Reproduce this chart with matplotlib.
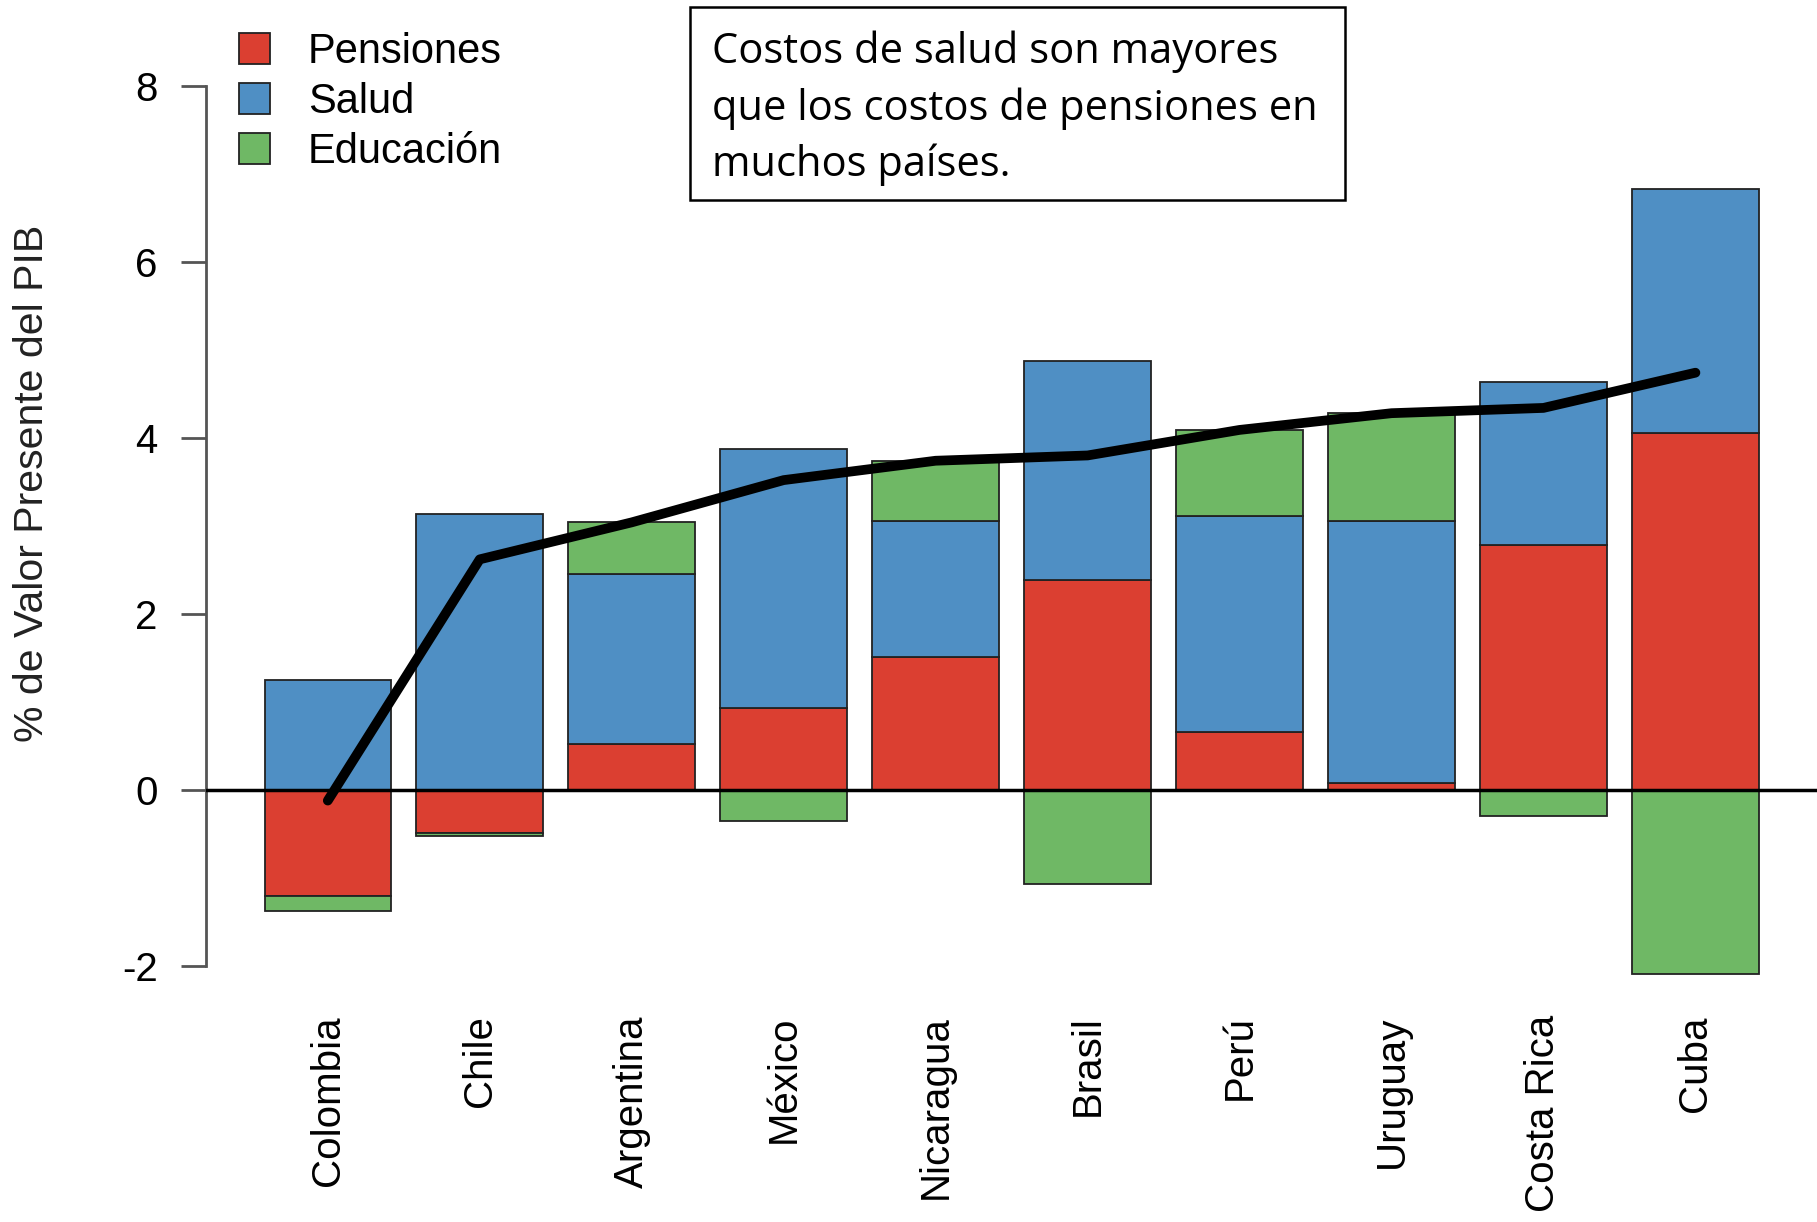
import numpy as np
import matplotlib
matplotlib.use('Agg')
import matplotlib.pyplot as plt
from matplotlib.patches import Rectangle

# Countries and cost components (% of GDP, present value)
countries = ['Colombia', 'Chile', 'Argentina', 'México', 'Nicaragua',
             'Brasil', 'Perú', 'Uruguay', 'Costa Rica', 'Cuba']
pensiones = [-1.20, -0.49, 0.52, 0.93, 1.51, 2.38, 0.66, 0.08, 2.78, 4.05]
salud = [1.25, 3.14, 1.93, 2.94, 1.54, 2.49, 2.45, 2.97, 1.85, 2.78]
educacion = [-0.17, -0.03, 0.59, -0.35, 0.69, -1.07, 0.98, 1.23, -0.29, -2.09]
series_names = ['Pensiones', 'Salud', 'Educación']
series_colors = ['#DB3F31', '#4F8FC4', '#6FB865']
y_ticks = [-2, 0, 2, 4, 6, 8]
note_text = 'Costos de salud son mayores\nque los costos de pensiones en\nmuchos países.'

plt.rcParams['font.family'] = ['Liberation Sans', 'DejaVu Sans']

fig = plt.figure(figsize=(18.17, 12.22), dpi=100)
ax = fig.add_axes([0.1135, 0.1806, 0.8865, 0.7781])

x = np.arange(len(countries))
width = 0.833
pos_base = np.zeros(len(countries))
neg_base = np.zeros(len(countries))
for name, vals, col in zip(series_names, [pensiones, salud, educacion], series_colors):
    vals = np.array(vals)
    bottoms = np.where(vals >= 0, pos_base, neg_base)
    ax.bar(x, vals, width=width, bottom=bottoms, color=col,
           edgecolor='#222222', linewidth=1.3, label=name, zorder=2)
    pos_base += np.where(vals >= 0, vals, 0)
    neg_base += np.where(vals < 0, vals, 0)

# Total line
total = np.array(pensiones) + np.array(salud) + np.array(educacion)
ax.plot(x, total, color='black', linewidth=7, solid_capstyle='round',
        solid_joinstyle='round', zorder=4)

ax.axhline(0, color='black', linewidth=2.5, zorder=3)

ax.set_xlim(-0.80, 9.80)
ax.set_ylim(-2.4, 8.4)
ax.set_xticks(x)
ax.set_xticklabels(countries, rotation=90, va='top', ha='center', fontsize=29)
ax.tick_params(axis='x', length=0, pad=10)
ax.set_yticks(y_ticks)
ax.set_yticklabels([str(t) for t in y_ticks], fontsize=29)
ax.tick_params(axis='y', length=18, width=2, color='#555555', pad=17)

for s in ['top', 'right', 'bottom']:
    ax.spines[s].set_visible(False)
ax.spines['left'].set_bounds(-2, 8)
ax.spines['left'].set_color('#555555')
ax.spines['left'].set_linewidth(2)

ax.set_ylabel('% de Valor Presente del PIB', fontsize=29.5, color='#222222',
              va='center', ha='center')
ax.yaxis.set_label_coords(-0.108, 0.545)

leg = ax.legend(loc='upper left', bbox_to_anchor=(-0.003, 1.059), frameon=False,
                fontsize=30, handlelength=0.75, handleheight=0.75,
                labelspacing=0.24, handletextpad=0.9)

# Annotation box
fig.patches.append(Rectangle((0.380, 0.836), 0.3604, 0.1583, transform=fig.transFigure,
                             fill=False, edgecolor='black', linewidth=1.8))
fig.text(0.3916, 0.975, note_text, fontsize=30, family='Open Sans',
         va='top', ha='left', linespacing=1.43)

fig.savefig('out.png', dpi=100)
